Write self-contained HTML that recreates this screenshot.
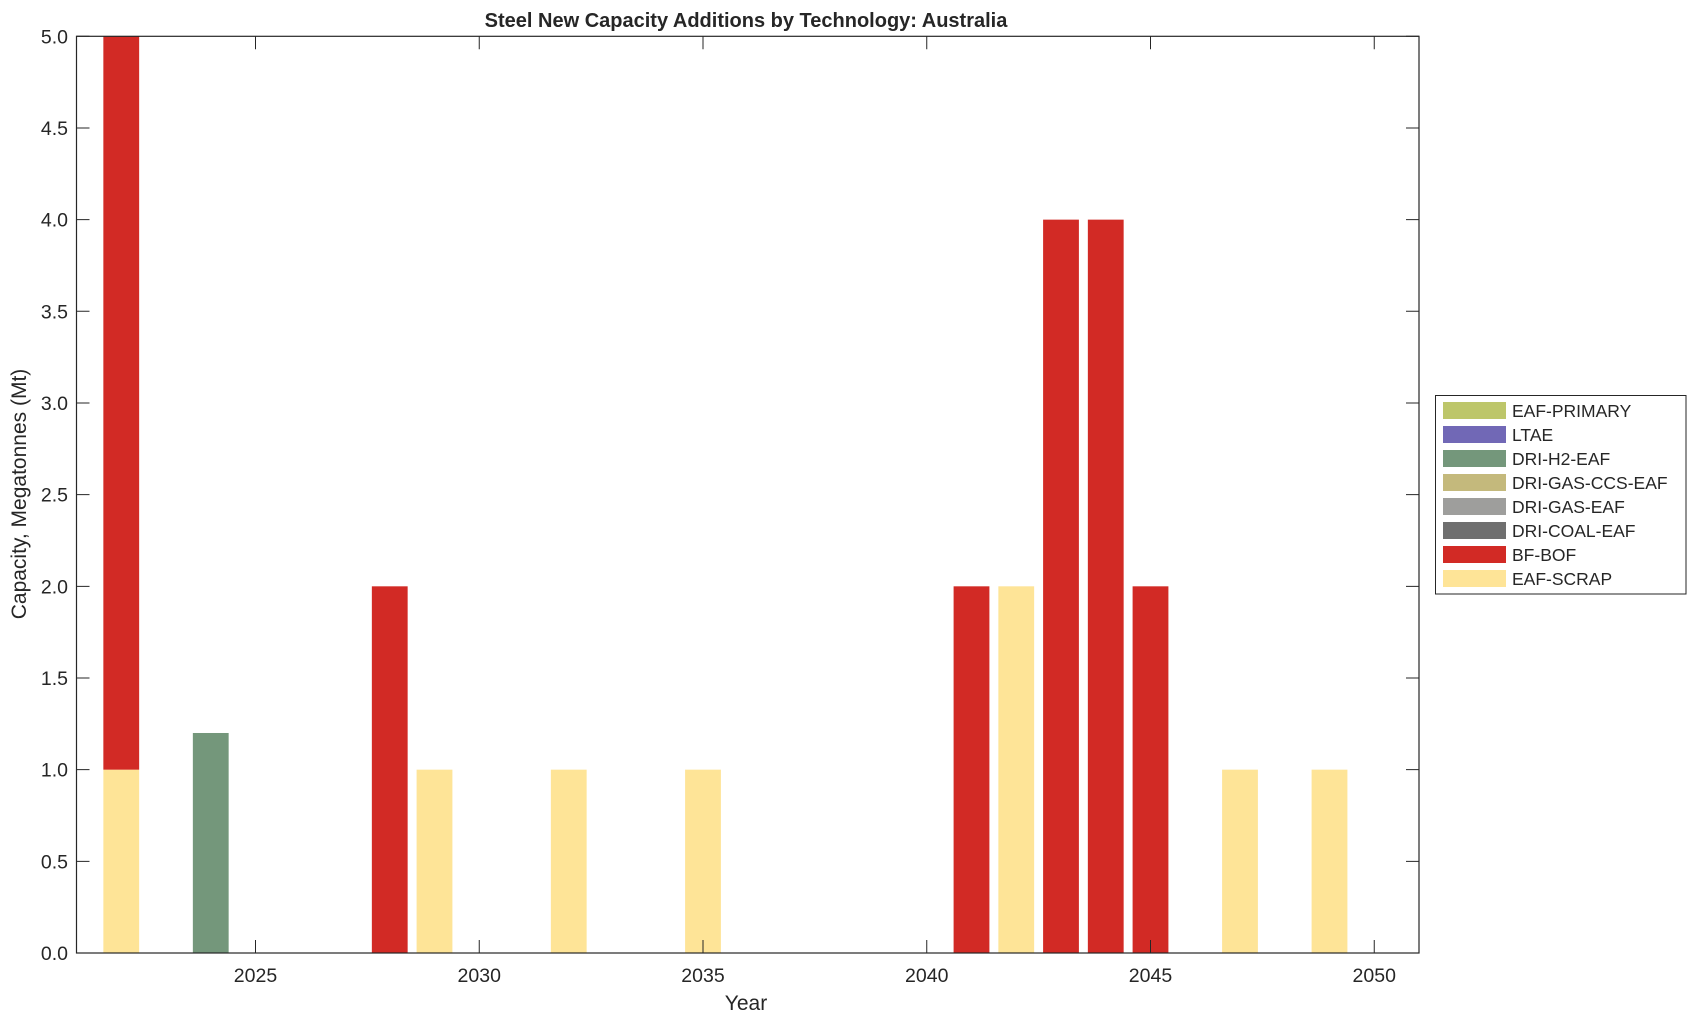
<!DOCTYPE html>
<html><head><meta charset="utf-8"><style>body{margin:0;background:#fff}svg{display:block}text{font-family:"Liberation Sans",Arial,sans-serif;fill:#262626}</style></head><body>
<svg width="1696" height="1021" xmlns="http://www.w3.org/2000/svg">
<rect width="1696" height="1021" fill="#fff"/>
<g>
<rect x="103.35" y="769.66" width="35.8" height="183.34" fill="#fee497"/>
<rect x="103.35" y="36.3" width="35.8" height="733.36" fill="#d22a25"/>
<rect x="192.85" y="732.99" width="35.8" height="220.01" fill="#74977b"/>
<rect x="371.85" y="586.32" width="35.8" height="366.68" fill="#d22a25"/>
<rect x="416.6" y="769.66" width="35.8" height="183.34" fill="#fee497"/>
<rect x="550.85" y="769.66" width="35.8" height="183.34" fill="#fee497"/>
<rect x="685.1" y="769.66" width="35.8" height="183.34" fill="#fee497"/>
<rect x="953.6" y="586.32" width="35.8" height="366.68" fill="#d22a25"/>
<rect x="998.35" y="586.32" width="35.8" height="366.68" fill="#fee497"/>
<rect x="1043.1" y="219.64" width="35.8" height="733.36" fill="#d22a25"/>
<rect x="1087.85" y="219.64" width="35.8" height="733.36" fill="#d22a25"/>
<rect x="1132.6" y="586.32" width="35.8" height="366.68" fill="#d22a25"/>
<rect x="1222.1" y="769.66" width="35.8" height="183.34" fill="#fee497"/>
<rect x="1311.6" y="769.66" width="35.8" height="183.34" fill="#fee497"/>
</g>
<rect x="76.5" y="36.3" width="1342.5" height="916.7" fill="none" stroke="#262626" stroke-width="1.2"/>
<g stroke="#262626" stroke-width="1">
<path d="M76.5 953h13M76.5 861.33h13M76.5 769.66h13M76.5 677.99h13M76.5 586.32h13M76.5 494.65h13M76.5 402.98h13M76.5 311.31h13M76.5 219.64h13M76.5 127.97h13M76.5 36.3h13"/>
<path d="M1419 953h-13M1419 861.33h-13M1419 769.66h-13M1419 677.99h-13M1419 586.32h-13M1419 494.65h-13M1419 402.98h-13M1419 311.31h-13M1419 219.64h-13M1419 127.97h-13M1419 36.3h-13"/>
<path d="M255.5 953v-13M479.25 953v-13M703 953v-13M926.75 953v-13M1150.5 953v-13M1374.25 953v-13"/>
<path d="M255.5 36.3v13M479.25 36.3v13M703 36.3v13M926.75 36.3v13M1150.5 36.3v13M1374.25 36.3v13"/>
</g>
<g font-size="19.5" text-anchor="end">
<text x="68" y="960">0.0</text><text x="68" y="868.3">0.5</text><text x="68" y="776.7">1.0</text><text x="68" y="685">1.5</text><text x="68" y="593.3">2.0</text><text x="68" y="501.6">2.5</text><text x="68" y="410">3.0</text><text x="68" y="318.3">3.5</text><text x="68" y="226.6">4.0</text><text x="68" y="135">4.5</text><text x="68" y="43.3">5.0</text>
</g>
<g font-size="19.5" text-anchor="middle">
<text x="255.5" y="982">2025</text><text x="479.25" y="982">2030</text><text x="703" y="982">2035</text><text x="926.75" y="982">2040</text><text x="1150.5" y="982">2045</text><text x="1374.25" y="982">2050</text>
</g>
<text x="746" y="27" font-size="20" font-weight="bold" text-anchor="middle" fill="#000">Steel New Capacity Additions by Technology: Australia</text>
<text x="746" y="1010" font-size="21" text-anchor="middle">Year</text>
<text transform="translate(26,494) rotate(-90)" font-size="21" text-anchor="middle">Capacity, Megatonnes (Mt)</text>
<rect x="1435.5" y="395.5" width="250.5" height="198.5" fill="#fff" stroke="#262626" stroke-width="1"/>
<g font-size="17.5">
<rect x="1443" y="402" width="63" height="17" fill="#bdc66a"/><text x="1512" y="417" fill="#000">EAF-PRIMARY</text>
<rect x="1443" y="426" width="63" height="17" fill="#7168b6"/><text x="1512" y="441" fill="#000">LTAE</text>
<rect x="1443" y="450" width="63" height="17" fill="#74977b"/><text x="1512" y="465" fill="#000">DRI-H2-EAF</text>
<rect x="1443" y="474" width="63" height="17" fill="#c4b97c"/><text x="1512" y="489" fill="#000">DRI-GAS-CCS-EAF</text>
<rect x="1443" y="498" width="63" height="17" fill="#9e9e9c"/><text x="1512" y="513" fill="#000">DRI-GAS-EAF</text>
<rect x="1443" y="522" width="63" height="17" fill="#6f6f6f"/><text x="1512" y="537" fill="#000">DRI-COAL-EAF</text>
<rect x="1443" y="546" width="63" height="17" fill="#d22a25"/><text x="1512" y="561" fill="#000">BF-BOF</text>
<rect x="1443" y="570" width="63" height="17" fill="#fee497"/><text x="1512" y="585" fill="#000">EAF-SCRAP</text>
</g>
</svg>
</body></html>
